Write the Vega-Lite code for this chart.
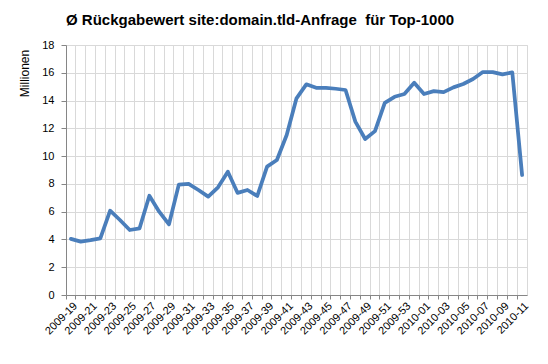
{
  "$schema": "https://vega.github.io/schema/vega-lite/v6.json",
  "width": 461,
  "height": 250,
  "autosize": {"type": "none"},
  "padding": {"left": 66, "top": 45, "right": 21, "bottom": 69},
  "background": "white",
  "title": {
    "text": "Ø Rückgabewert site:domain.tld-Anfrage \u00a0für Top-1000",
    "anchor": "start",
    "frame": "group",
    "font": "Liberation Sans",
    "fontSize": 15,
    "fontWeight": "bold",
    "color": "black",
    "offset": 11
  },
  "data": {
    "values": [
      {"week": "2009-19", "value": 4.04},
      {"week": "2009-20", "value": 3.84},
      {"week": "2009-21", "value": 3.95},
      {"week": "2009-22", "value": 4.08},
      {"week": "2009-23", "value": 6.07},
      {"week": "2009-24", "value": 5.4},
      {"week": "2009-25", "value": 4.68},
      {"week": "2009-26", "value": 4.8},
      {"week": "2009-27", "value": 7.15},
      {"week": "2009-28", "value": 6.0},
      {"week": "2009-29", "value": 5.09},
      {"week": "2009-30", "value": 7.95},
      {"week": "2009-31", "value": 8.0},
      {"week": "2009-32", "value": 7.56},
      {"week": "2009-33", "value": 7.08},
      {"week": "2009-34", "value": 7.75},
      {"week": "2009-35", "value": 8.88},
      {"week": "2009-36", "value": 7.35},
      {"week": "2009-37", "value": 7.56},
      {"week": "2009-38", "value": 7.13},
      {"week": "2009-39", "value": 9.24},
      {"week": "2009-40", "value": 9.72},
      {"week": "2009-41", "value": 11.52},
      {"week": "2009-42", "value": 14.16},
      {"week": "2009-43", "value": 15.17},
      {"week": "2009-44", "value": 14.92},
      {"week": "2009-45", "value": 14.92},
      {"week": "2009-46", "value": 14.85},
      {"week": "2009-47", "value": 14.76},
      {"week": "2009-48", "value": 12.48},
      {"week": "2009-49", "value": 11.23},
      {"week": "2009-50", "value": 11.8},
      {"week": "2009-51", "value": 13.84},
      {"week": "2009-52", "value": 14.27},
      {"week": "2009-53", "value": 14.47},
      {"week": "2010-00", "value": 15.28},
      {"week": "2010-01", "value": 14.47},
      {"week": "2010-02", "value": 14.68},
      {"week": "2010-03", "value": 14.61},
      {"week": "2010-04", "value": 14.95},
      {"week": "2010-05", "value": 15.19},
      {"week": "2010-06", "value": 15.55},
      {"week": "2010-07", "value": 16.05},
      {"week": "2010-08", "value": 16.05},
      {"week": "2010-09", "value": 15.88},
      {"week": "2010-10", "value": 16.03},
      {"week": "2010-11", "value": 8.64}
    ]
  },
  "mark": {"type": "line", "color": "#4a7ebb", "strokeWidth": 3.75, "strokeJoin": "round", "strokeCap": "round"},
  "encoding": {
    "x": {
      "field": "week",
      "type": "ordinal",
      "sort": null,
      "scale": {"type": "band", "paddingInner": 0, "paddingOuter": 0},
      "axis": {
        "title": null,
        "bandPosition": 0,
        "grid": true,
        "gridColor": "#d9d9d9",
        "gridWidth": 1,
        "domainColor": "#868686",
        "tickColor": "#868686",
        "tickSize": 4,
        "labelAngle": -45,
        "labelAlign": "right",
        "labelBaseline": "middle",
        "labelFont": "Liberation Sans",
        "labelFontSize": 11,
        "labelColor": "black",
        "labelOverlap": false,
        "labelPadding": 5,
        "labelOffset": 4.9,
        "labelExpr": "toNumber(slice(datum.value, 5)) % 2 == 1 ? datum.value : ''"
      }
    },
    "y": {
      "field": "value",
      "type": "quantitative",
      "scale": {"domain": [0, 18], "nice": false},
      "axis": {
        "title": "Millionen",
        "values": [0, 2, 4, 6, 8, 10, 12, 14, 16, 18],
        "grid": true,
        "gridColor": "#d9d9d9",
        "gridWidth": 1,
        "domainColor": "#868686",
        "tickColor": "#868686",
        "tickSize": 5,
        "labelFont": "Liberation Sans",
        "labelFontSize": 11,
        "labelColor": "black",
        "labelPadding": 7,
        "titleFont": "Liberation Sans",
        "titleFontSize": 12,
        "titleFontWeight": "normal",
        "titleColor": "black",
        "titleAngle": -90,
        "titleX": -42,
        "titleY": 28,
        "titleAlign": "center",
        "titleBaseline": "middle"
      }
    }
  },
  "config": {
    "view": {"stroke": "#d9d9d9"}
  }
}
